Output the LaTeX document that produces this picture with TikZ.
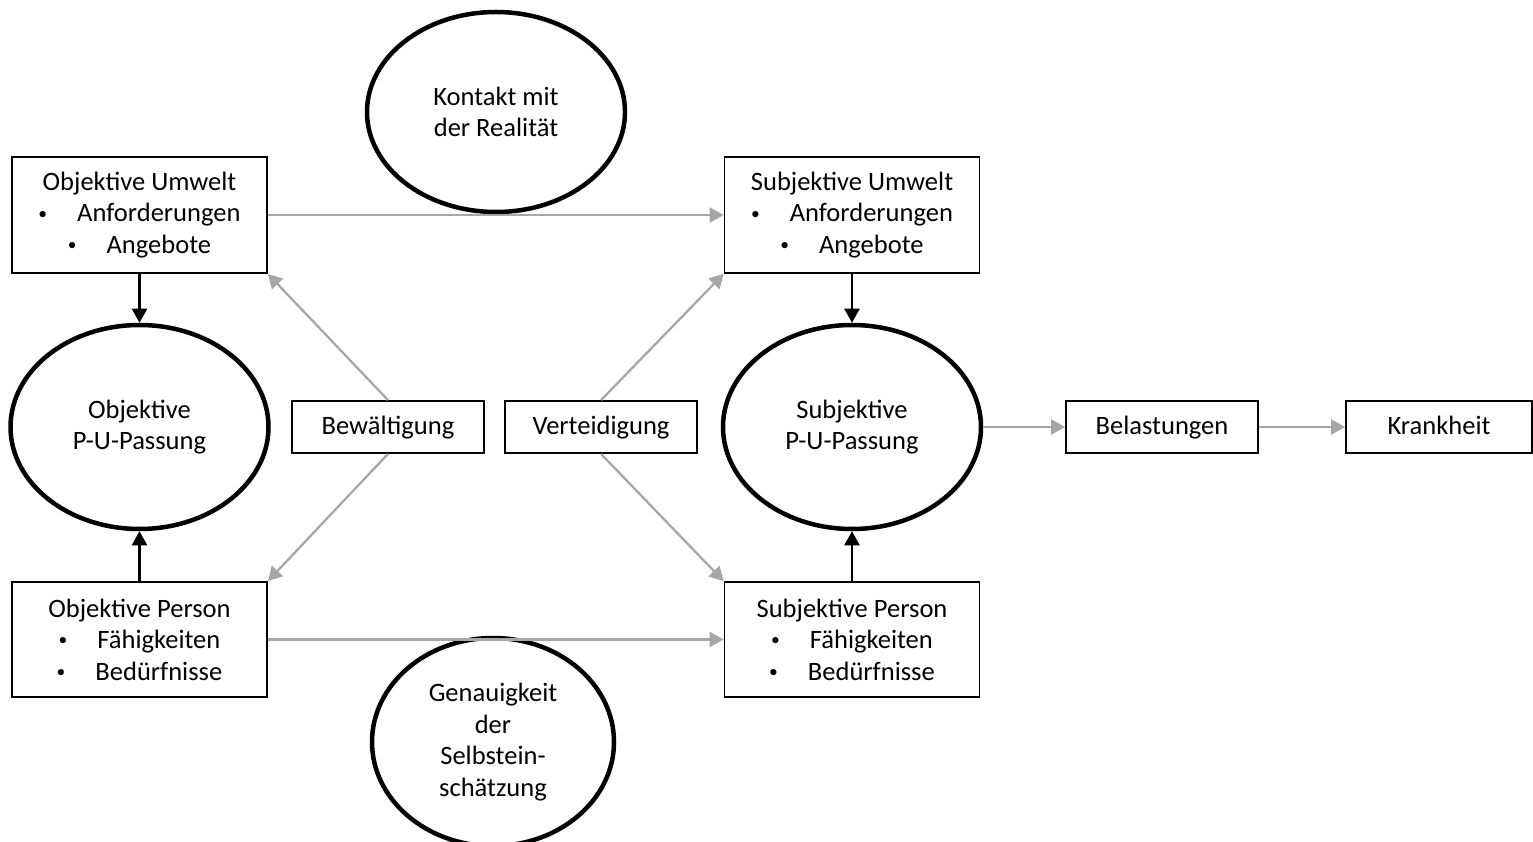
\documentclass[tikz,border=0pt]{standalone}
\usepackage{fontspec}
\setmainfont{Carlito}
\usetikzlibrary{shapes.geometric,arrows.meta}
\definecolor{pfeilgrau}{RGB}{166,166,166}
\newcommand{\punkt}{\raisebox{0.1em}{\fontsize{10}{10}\selectfont\textbullet}\hspace{0.6cm}}
\tikzset{
  kasten/.style={draw,line width=0.035cm,align=center,inner sep=0pt},
  zeile/.style={kasten,minimum height=1.04cm,text height=11.5pt,text depth=2.4pt},
  oval/.style={draw,ellipse,line width=0.09cm,align=center,inner sep=0pt},
  grau/.style={draw=pfeilgrau,line width=0.045cm,-{Triangle[length=0.28cm,width=0.3cm]}},
  schwarz/.style={draw=black,line width=0.045cm,-{Triangle[length=0.28cm,width=0.3cm]}}
}

\begin{document}
\begin{tikzpicture}[font=\fontsize{15.1}{17.9}\selectfont]
  \useasboundingbox (0,0) rectangle (30.66,-16.84);

  % Umwelt and Person
  \node[kasten,minimum width=5.1cm,minimum height=2.32cm] (objumwelt) at (2.79,-4.3) {Objektive Umwelt\\ \punkt Anforderungen\\ \punkt Angebote};
  \node[kasten,minimum width=5.1cm,minimum height=2.32cm] (subjumwelt) at (17.04,-4.3) {Subjektive Umwelt\\ \punkt Anforderungen\\ \punkt Angebote};
  \node[kasten,minimum width=5.1cm,minimum height=2.3cm] (objperson) at (2.79,-12.79) {Objektive Person\\ \punkt Fähigkeiten\\ \punkt Bedürfnisse};
  \node[kasten,minimum width=5.1cm,minimum height=2.3cm] (subjperson) at (17.04,-12.79) {Subjektive Person\\ \punkt Fähigkeiten\\ \punkt Bedürfnisse};

  % Middle row
  \node[zeile,minimum width=3.84cm] (bewaelt) at (7.76,-8.54) {Bewältigung};
  \node[zeile,minimum width=3.84cm] (verteid) at (12.02,-8.54) {Verteidigung};
  \node[zeile,minimum width=3.84cm] (belast) at (23.24,-8.54) {Belastungen};
  \node[zeile,minimum width=3.72cm] (krank) at (28.78,-8.54) {Krankheit};

  % Ellipses
  \node[oval,minimum width=5.16cm,minimum height=4.08cm] (objpassung) at (2.79,-8.54) {Objektive\\P-U-Passung};
  \node[oval,minimum width=5.16cm,minimum height=4.08cm] (subjpassung) at (17.04,-8.54) {Subjektive\\P-U-Passung};
  \node[oval,minimum width=5.16cm,minimum height=4cm] (kontakt) at (9.92,-2.24) {Kontakt mit\\der Realität};
  \node[oval,minimum width=4.84cm,minimum height=4.16cm] (genau) at (9.86,-14.84) {Genauigkeit\\der\\Selbstein-\\schätzung};

  % Arrows
  \draw[grau] (objumwelt.east) -- (subjumwelt.west);
  \draw[grau] (objperson.east) -- (subjperson.west);
  \draw[schwarz] (objumwelt.south) -- (objpassung.north);
  \draw[schwarz] (objperson.north) -- (objpassung.south);
  \draw[schwarz] (subjumwelt.south) -- (subjpassung.north);
  \draw[schwarz] (subjperson.north) -- (subjpassung.south);
  \draw[grau] (bewaelt.north) -- (objumwelt.south east);
  \draw[grau] (bewaelt.south) -- (objperson.north east);
  \draw[grau] (verteid.north) -- (subjumwelt.south west);
  \draw[grau] (verteid.south) -- (subjperson.north west);
  \draw[grau] (subjpassung.east) -- (belast.west);
  \draw[grau] (belast.east) -- (krank.west);
\end{tikzpicture}
\end{document}
